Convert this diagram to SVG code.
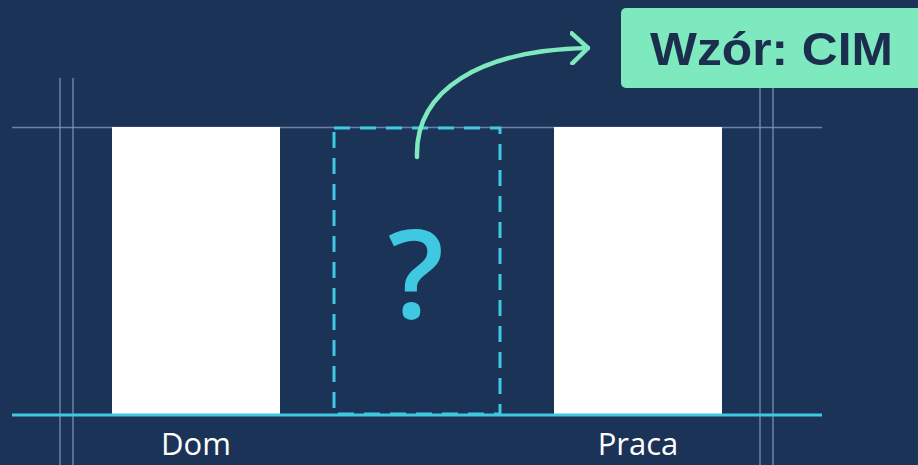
<svg xmlns="http://www.w3.org/2000/svg" width="918" height="465" viewBox="0 0 918 465">
  <style>
    .guide { stroke: #8a9bbd; stroke-width: 1.5; stroke-opacity: 0.75; fill: none; }
    .col { fill: #ffffff; }
    .label { font-family: "Open Sans", "Liberation Sans", sans-serif; font-size: 31px; fill: #ffffff; }
  </style>
  <defs>
    <marker id="chev" viewBox="0 0 20 34" refX="18" refY="17" markerWidth="20" markerHeight="34" markerUnits="userSpaceOnUse" orient="auto">
      <path d="M2,2 L18,17 L2,32" fill="none" stroke="#7ee8bf" stroke-width="4.5" stroke-linecap="round" stroke-linejoin="round"/>
    </marker>
  </defs>
  <rect x="0" y="0" width="918" height="465" fill="#1c3358"/>

  <g id="guides">
    <line class="guide" x1="60" y1="78" x2="60" y2="465"/>
    <line class="guide" x1="73" y1="78" x2="73" y2="465"/>
    <line class="guide" x1="760" y1="88" x2="760" y2="465"/>
    <line class="guide" x1="773" y1="88" x2="773" y2="465"/>
    <line class="guide" x1="12" y1="127.5" x2="822" y2="127.5"/>
  </g>

  <g id="dom">
    <rect class="col" x="112" y="127" width="168" height="287"/>
    <text class="label" x="196" y="455" text-anchor="middle">Dom</text>
  </g>

  <g id="praca">
    <rect class="col" x="554" y="127" width="168" height="287"/>
    <text class="label" x="638" y="455" text-anchor="middle">Praca</text>
  </g>

  <g id="unknown">
    <rect x="334" y="128" width="166" height="286" fill="none" stroke="#3fc8e2" stroke-width="3" stroke-dasharray="16 10"/>
    <text x="416" y="318" text-anchor="middle" font-family="Open Sans, Liberation Sans, sans-serif" font-weight="600" font-size="124" fill="#3fc8e2">?</text>
  </g>

  <g id="pattern">
    <rect x="621" y="8" width="310" height="80" rx="5" fill="#7ee8bf"/>
    <text x="650" y="65" font-family="Liberation Sans, Arial, sans-serif" font-weight="bold" font-size="47" fill="#1b2e4e" textLength="243" lengthAdjust="spacingAndGlyphs">Wzór: CIM</text>
  </g>

  <g id="connectors">
    <line x1="12" y1="415" x2="822" y2="415" stroke="#3fc8e2" stroke-width="3"/>
    <path d="M417,157 C415,90 480,50 588,48" fill="none" stroke="#7ee8bf" stroke-width="4.5" stroke-linecap="round" marker-end="url(#chev)"/>
  </g>
</svg>
